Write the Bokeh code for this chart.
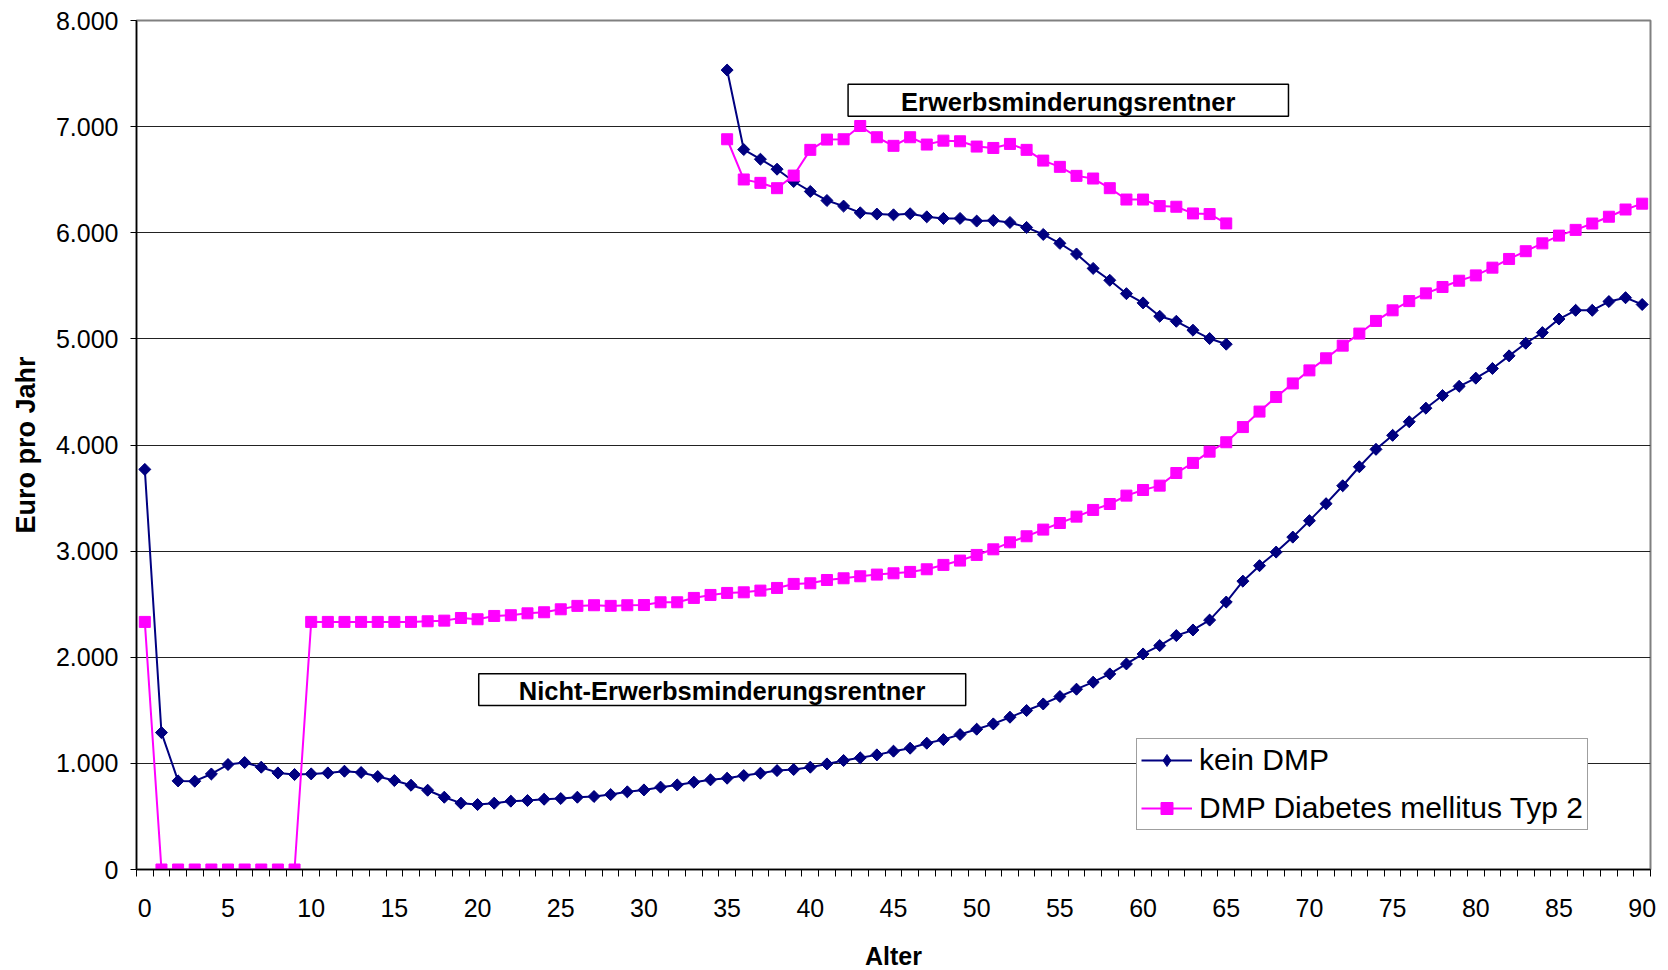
import math
from bokeh.plotting import figure
from bokeh.models import (FixedTicker, Range1d, Legend, LegendItem,
                          BoxAnnotation, Label)
from bokeh.embed import file_html
from bokeh.resources import INLINE

# ---------------- data ----------------
ages = list(range(0, 91))
ages_em = list(range(35, 66))

kein_dmp = [3770, 1290, 835, 832, 900, 989, 1008, 964, 910, 895,
            901, 910, 926, 914, 876, 838, 794, 747, 681, 625,
            612, 625, 644, 650, 662, 669, 681, 688, 706, 732,
            750, 776, 797, 823, 845, 860, 885, 907, 932, 942,
            964, 995, 1027, 1052, 1080, 1115, 1143, 1190, 1224, 1272,
            1322, 1372, 1435, 1498, 1560, 1630, 1699, 1765, 1843, 1937,
            2031, 2110, 2204, 2257, 2350, 2520, 2717, 2863, 2991, 3132,
            3287, 3447, 3616, 3795, 3959, 4091, 4219, 4347, 4466, 4553,
            4630, 4721, 4840, 4959, 5059, 5187, 5269, 5269, 5352, 5388,
            5324]

dmp_typ2 = [2333, 0, 0, 0, 0, 0, 0, 0, 0, 0,
            2333, 2333, 2333, 2333, 2333, 2333, 2333, 2339, 2345, 2370,
            2358, 2389, 2396, 2414, 2424, 2452, 2484, 2490, 2484, 2490,
            2492, 2518, 2518, 2559, 2587, 2606, 2612, 2628, 2653, 2691,
            2697, 2728, 2744, 2763, 2779, 2791, 2804, 2829, 2870, 2911,
            2964, 3017, 3083, 3140, 3203, 3265, 3325, 3388, 3444, 3523,
            3576, 3617, 3736, 3831, 3937, 4026, 4169, 4315, 4452, 4580,
            4703, 4817, 4936, 5050, 5169, 5269, 5356, 5429, 5489, 5548,
            5598, 5671, 5753, 5826, 5900, 5973, 6027, 6087, 6151, 6219,
            6274]

kein_dmp_em = [7533, 6784, 6693, 6599, 6483, 6389, 6304, 6251, 6188, 6176,
               6169, 6179, 6150, 6135, 6135, 6110, 6116, 6097, 6050, 5984,
               5900, 5800, 5664, 5552, 5426, 5339, 5213, 5166, 5082, 5003,
               4950]

dmp_typ2_em = [6881, 6502, 6470, 6420, 6539, 6781, 6878, 6881, 7006, 6900,
               6819, 6900, 6831, 6868, 6862, 6812, 6799, 6837, 6781, 6680,
               6621, 6536, 6511, 6420, 6313, 6313, 6251, 6245, 6182, 6176,
               6088]

y_ticks = [0, 1000, 2000, 3000, 4000, 5000, 6000, 7000, 8000]
y_tick_labels = ["0", "1.000", "2.000", "3.000", "4.000",
                 "5.000", "6.000", "7.000", "8.000"]
x_ticks = list(range(0, 91, 5))

series_names = ["kein DMP", "DMP Diabetes mellitus Typ 2"]
box_texts = ["Erwerbsminderungsrentner", "Nicht-Erwerbsminderungsrentner"]

# ---------------- styling ----------------
NAVY = "#000080"
MAGENTA = "#FF00FF"
FONT = "Liberation Sans"

p = figure(frame_width=1514, frame_height=849,
           x_range=Range1d(-0.5, 90.5), y_range=Range1d(0, 8000),
           output_backend="svg", toolbar_location=None,
           min_border_left=136, min_border_top=20,
           min_border_right=10, min_border_bottom=95)

p.background_fill_color = "white"
p.border_fill_color = "white"
p.outline_line_color = "#808080"
p.outline_line_width = 2

# grid
p.xgrid.grid_line_color = None
p.ygrid.ticker = FixedTicker(ticks=y_ticks)
p.ygrid.grid_line_color = "#222222"
p.ygrid.grid_line_width = 1

# y axis
p.yaxis.ticker = FixedTicker(ticks=y_ticks)
p.yaxis.major_label_overrides = {t: l for t, l in zip(y_ticks, y_tick_labels)}
p.yaxis.major_label_text_font = FONT
p.yaxis.major_label_text_font_size = "25px"
p.yaxis.major_label_text_color = "black"
p.yaxis.major_tick_out = 6
p.yaxis.major_tick_in = 0
p.yaxis.major_tick_line_color = "black"
p.yaxis.minor_tick_line_color = None
p.yaxis.axis_line_color = "black"
p.yaxis.axis_line_width = 1.5
p.yaxis.major_label_standoff = 12
p.yaxis.axis_label = "Euro pro Jahr"
p.yaxis.axis_label_text_font = FONT
p.yaxis.axis_label_text_font_style = "bold"
p.yaxis.axis_label_text_font_size = "27px"
p.yaxis.axis_label_text_color = "black"
p.yaxis.axis_label_standoff = 12

# x axis
p.xaxis.ticker = FixedTicker(ticks=x_ticks,
                             minor_ticks=[a - 0.5 for a in range(0, 92)])
p.xaxis.major_label_text_font = FONT
p.xaxis.major_label_text_font_size = "25px"
p.xaxis.major_label_text_color = "black"
p.xaxis.major_tick_out = 0
p.xaxis.major_tick_in = 0
p.xaxis.minor_tick_out = 7
p.xaxis.minor_tick_in = 0
p.xaxis.minor_tick_line_color = "black"
p.xaxis.axis_line_color = "black"
p.xaxis.axis_line_width = 1.5
p.xaxis.major_label_standoff = 22
p.xaxis.axis_label = "Alter"
p.xaxis.axis_label_text_font = FONT
p.xaxis.axis_label_text_font_style = "bold"
p.xaxis.axis_label_text_font_size = "25px"
p.xaxis.axis_label_text_color = "black"
p.xaxis.axis_label_standoff = 22

# series (navy: diamonds; a plain diamond lies under each rotated square
# and provides the legend glyph)
l1 = p.line(ages, kein_dmp, line_color=NAVY, line_width=2)
d1 = p.scatter(ages, kein_dmp, marker="diamond", size=11,
               fill_color=NAVY, line_color=NAVY)
p.scatter(ages, kein_dmp, marker="square", angle=math.pi / 4, size=8.5,
          fill_color=NAVY, line_color=NAVY)
p.line(ages_em, kein_dmp_em, line_color=NAVY, line_width=2)
p.scatter(ages_em, kein_dmp_em, marker="square", angle=math.pi / 4, size=8.5,
          fill_color=NAVY, line_color=NAVY)

l2 = p.line(ages, dmp_typ2, line_color=MAGENTA, line_width=2)
s2 = p.scatter(ages, dmp_typ2, marker="square", size=11,
               fill_color=MAGENTA, line_color=MAGENTA)
p.line(ages_em, dmp_typ2_em, line_color=MAGENTA, line_width=2)
p.scatter(ages_em, dmp_typ2_em, marker="square", size=11,
          fill_color=MAGENTA, line_color=MAGENTA)

# annotation boxes
p.add_layout(BoxAnnotation(left=42.27, right=68.74, bottom=7097, top=7399,
                           fill_color="white", fill_alpha=1,
                           line_color="black", line_alpha=1, line_width=1.5,
                           level="overlay"))
p.add_layout(Label(x=55.5, y=7235, text=box_texts[0], text_align="center",
                   text_baseline="middle", text_font=FONT,
                   text_font_style="bold", text_font_size="25.5px",
                   text_color="black", level="overlay"))
p.add_layout(BoxAnnotation(left=20.07, right=49.34, bottom=1546, top=1844,
                           fill_color="white", fill_alpha=1,
                           line_color="black", line_alpha=1, line_width=1.5,
                           level="overlay"))
p.add_layout(Label(x=34.7, y=1683, text=box_texts[1], text_align="center",
                   text_baseline="middle", text_font=FONT,
                   text_font_style="bold", text_font_size="25.5px",
                   text_color="black", level="overlay"))

# legend
legend = Legend(items=[LegendItem(label=series_names[0], renderers=[l1, d1]),
                       LegendItem(label=series_names[1], renderers=[l2, s2])],
                location=(1000, 39))
legend.label_text_font = FONT
legend.label_text_font_size = "30px"
legend.label_text_color = "black"
legend.glyph_width = 51
legend.glyph_height = 30
legend.label_height = 34
legend.label_standoff = 7
legend.padding = 4
legend.spacing = 14
legend.border_line_color = "#404040"
legend.border_line_width = 1.5
legend.background_fill_color = "white"
legend.background_fill_alpha = 1
p.add_layout(legend, "center")

open("out.html", "w").write(file_html(p, INLINE))
